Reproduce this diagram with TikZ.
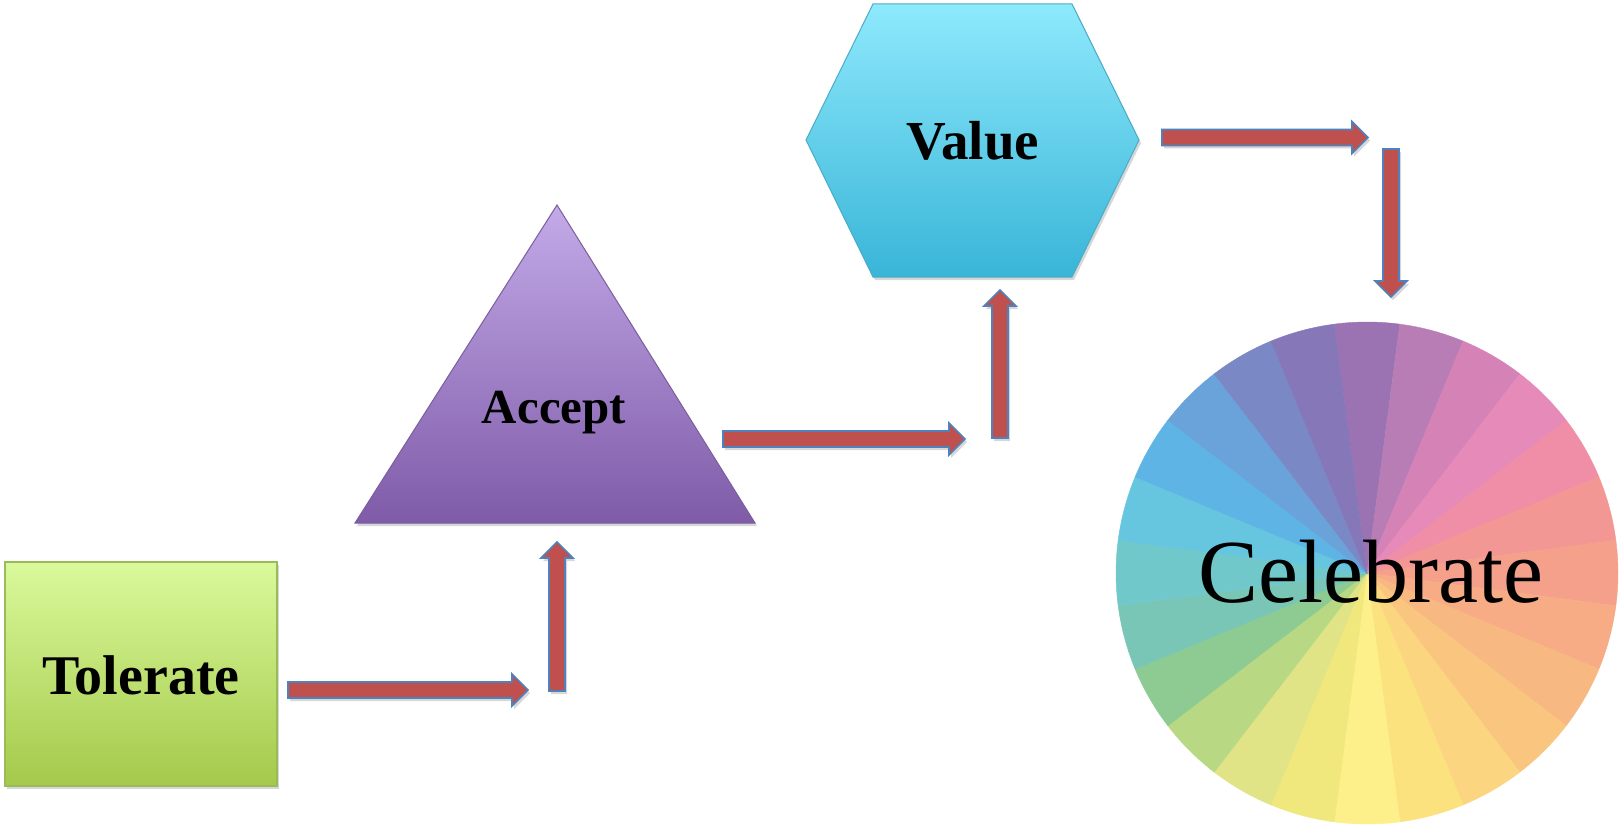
\documentclass[tikz,border=0pt]{standalone}
\usepackage{fontspec}
\setmainfont{Liberation Serif}
\usetikzlibrary{calc,shadows}
\definecolor{arrfill}{HTML}{C0504D}
\definecolor{arrline}{HTML}{4F81BD}
\definecolor{grtop}{HTML}{DAF99B}
\definecolor{grbot}{HTML}{A4C94A}
\definecolor{grline}{HTML}{9BBB59}
\definecolor{putop}{HTML}{C3AAE8}
\definecolor{pubot}{HTML}{7F5BA8}
\definecolor{puline}{HTML}{7A5E9D}
\definecolor{cytop}{HTML}{8EE9FC}
\definecolor{cybot}{HTML}{39B5D8}
\definecolor{cyline}{HTML}{4AACC6}
\definecolor{wa}{HTML}{9B72B2}
\definecolor{wb}{HTML}{B97DB6}
\definecolor{wc}{HTML}{D582B6}
\definecolor{wd}{HTML}{E58AB9}
\definecolor{we}{HTML}{EF8EA6}
\definecolor{wf}{HTML}{F29793}
\definecolor{wg}{HTML}{F5A08B}
\definecolor{wh}{HTML}{F7AC85}
\definecolor{wi}{HTML}{F8B882}
\definecolor{wj}{HTML}{FAC67F}
\definecolor{wk}{HTML}{FCD580}
\definecolor{wl}{HTML}{FBE27F}
\definecolor{wm}{HTML}{FDF08A}
\definecolor{wn}{HTML}{F0E87D}
\definecolor{wo}{HTML}{E0E386}
\definecolor{wp}{HTML}{B9D883}
\definecolor{wq}{HTML}{8DCB92}
\definecolor{wr}{HTML}{79C6B7}
\definecolor{ws}{HTML}{70C8CB}
\definecolor{wt}{HTML}{66C5DF}
\definecolor{wu}{HTML}{5EB5E5}
\definecolor{wv}{HTML}{6AA3D9}
\definecolor{ww}{HTML}{7A89C6}
\definecolor{wx}{HTML}{8677B8}
\newcommand\mkblockarrow[2]{%
  \coordinate (hb) at ($(#2)!16pt!(#1)$);
  \path[arrowbody] ($(#1)!8pt!90:(#2)$) -- ($(hb)!8pt!90:(#2)$) -- ($(hb)!16pt!90:(#2)$) -- (#2)
     -- ($(hb)!16pt!-90:(#2)$) -- ($(hb)!8pt!-90:(#2)$) -- ($(#1)!8pt!-90:(#2)$) -- cycle;}
\begin{document}
\begin{tikzpicture}[x=1pt,y=-1pt,
  softshadow/.style={drop shadow={shadow xshift=2pt, shadow yshift=-3pt, opacity=.22, fill=black!70}},
  arrowbody/.style={fill=arrfill, draw=arrline, line width=1.6pt, line join=miter, softshadow},
  greenbox/.style={top color=grtop, bottom color=grbot, draw=grline, line width=1.2pt, softshadow},
  purpletri/.style={top color=putop, bottom color=pubot, draw=puline, line width=1pt, softshadow},
  cyanhex/.style={top color=cytop, bottom color=cybot, draw=cyline, line width=1pt, softshadow},
  lbl/.style={inner sep=0pt, text=black, anchor=base}]
\useasboundingbox (0,0) rectangle (1622,832);
\fill[white] (0,0) rectangle (1622,832);

% colour wheel
\coordinate (wheel) at (1367,573);
\begin{scope}[shift={(wheel)}, x=1pt, y=1pt]
\foreach \c [count=\i from 0] in {wa,wb,wc,wd,we,wf,wg,wh,wi,wj,wk,wl,wm,wn,wo,wp,wq,wr,ws,wt,wu,wv,ww,wx}{
  \pgfmathsetmacro\sa{90-15*\i-7.5}
  \pgfmathsetmacro\ea{90-15*\i+7.5}
  \fill[\c, draw=\c, line width=0.4pt] (0,0) -- (\sa:251) arc[start angle=\sa, end angle=\ea, radius=251] -- cycle;
}
\end{scope}

% shapes
\path[greenbox] (5,562) rectangle (277,786);
\path[purpletri] (557,205) -- (755,523) -- (355,523) -- cycle;
\path[cyanhex] (873,4) -- (1072,4) -- (1139,140) -- (1072,277) -- (873,277) -- (806,140) -- cycle;

% labels
\node[lbl, font=\bfseries\fontsize{56}{60}\selectfont] (tolerate) at (141,694) {Tolerate};
\node[lbl, font=\bfseries\fontsize{49}{54}\selectfont] (accept) at (554,423) {Accept};
\node[lbl, font=\bfseries\fontsize{55}{60}\selectfont] (value) at (973,160) {Value};
\node[lbl, font=\fontsize{90}{96}\selectfont] (celebrate) at (1371,602) {Celebrate};

% block arrows
\coordinate (a1s) at (288,690);  \coordinate (a1e) at (528,690);
\coordinate (a2s) at (557,691);  \coordinate (a2e) at (557,542);
\coordinate (a3s) at (723,439);  \coordinate (a3e) at (965,439);
\coordinate (a4s) at (1000,438); \coordinate (a4e) at (1000,290);
\coordinate (a5s) at (1162,137.5); \coordinate (a5e) at (1368,137.5);
\coordinate (a6s) at (1391,149); \coordinate (a6e) at (1391,297);
\mkblockarrow{a1s}{a1e}
\mkblockarrow{a2s}{a2e}
\mkblockarrow{a3s}{a3e}
\mkblockarrow{a4s}{a4e}
\mkblockarrow{a5s}{a5e}
\mkblockarrow{a6s}{a6e}
\end{tikzpicture}
\end{document}
